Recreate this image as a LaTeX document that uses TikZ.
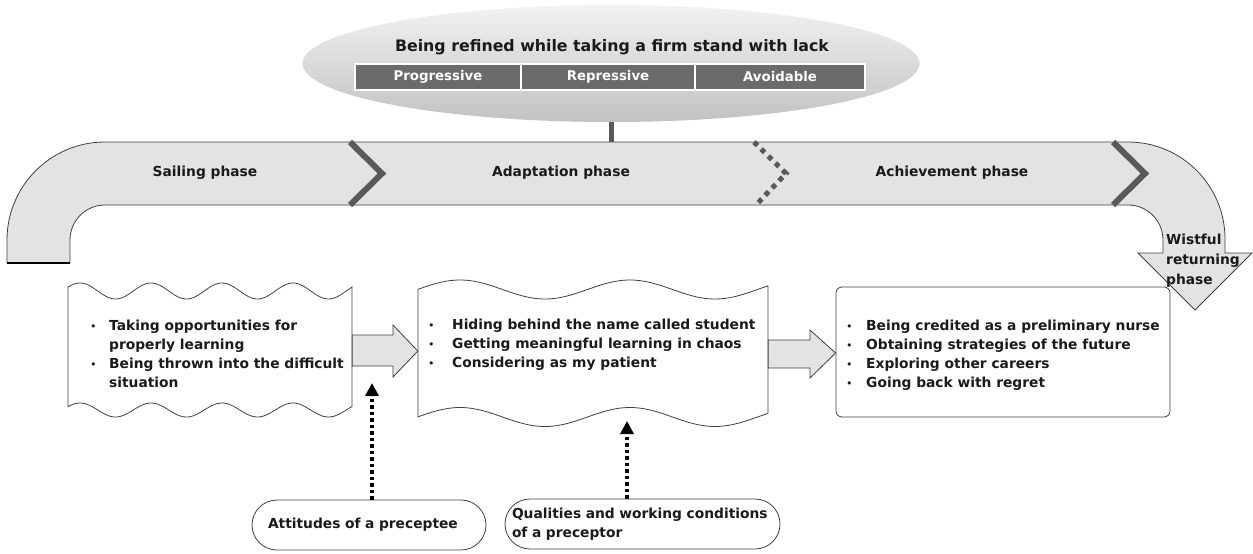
\documentclass[tikz,border=0pt]{standalone}
\usepackage{fontspec}
\setmainfont{DejaVu Sans}
\usetikzlibrary{shapes.geometric,arrows.meta,calc}
\definecolor{bandfill}{HTML}{E3E3E3}
\definecolor{edgecol}{HTML}{404040}
\definecolor{chevcol}{HTML}{595959}
\definecolor{darkbox}{HTML}{6B6B6B}
\definecolor{elltop}{HTML}{F2F2F2}
\definecolor{ellbot}{HTML}{C2C2C2}
\definecolor{ink}{HTML}{1A1A1A}
\newcommand{\bodyfont}{\bfseries\fontsize{13.8}{19}\selectfont}
\newcommand{\bul}{{\mdseries\fontsize{11}{11}\selectfont •}}
\begin{document}
\begin{tikzpicture}[x=1pt,y=-1pt,
  txt/.style={font=\bodyfont, inner sep=0pt, text=ink},
  darkcell/.style={fill=darkbox, draw=white, line width=1.5pt, minimum height=26pt,
     inner sep=0pt, text=white, font=\bfseries\fontsize{13.3}{16}\selectfont},
  chevron/.style={chevcol, line width=6pt},
  wavybox/.style={draw=edgecol, fill=white, line width=0.8pt},
  blockarrow/.style={draw=edgecol, fill=bandfill, line width=0.8pt},
  dotarrow/.style={black, line width=3.5pt, dash pattern=on 3.5pt off 3pt,
     -{Triangle[width=13pt,length=13pt]}},
  pill/.style={draw=edgecol, line width=0.8pt, rounded corners=25pt, minimum height=50pt,
     font=\bodyfont, text=ink, align=left}
]
\useasboundingbox (0,0) rectangle (1253,554);

% core category ellipse
\node[ellipse, minimum width=617pt, minimum height=117pt, inner sep=0pt,
      top color=elltop, bottom color=ellbot, draw=none] (core) at (611,63.5) {};
\node[txt, font=\bfseries\fontsize{15.8}{18}\selectfont] (title) at (612,47) {Being refined while taking a firm stand with lack};
\node[darkcell, minimum width=166pt] (prog) at (438,77) {Progressive};
\node[darkcell, minimum width=174pt] (repr) at (608,77) {Repressive};
\node[darkcell, minimum width=170pt] (avoid) at (780,77) {Avoidable};

% band
\draw[edgecol, fill=bandfill, line width=0.8pt]
  (7,263) -- (7,240) arc[start angle=180, end angle=270, radius=98]
  -- (1128,142) arc[start angle=270, end angle=360, radius=97]
  -- (1225,253) -- (1252,253) -- (1195,310) -- (1138,253) -- (1163,253) -- (1163,240)
  arc[start angle=0, end angle=-90, radius=35]
  -- (105,205) arc[start angle=270, end angle=180, radius=35]
  -- (70,263) -- cycle;
\draw[black, line width=2pt] (7,263) -- (70,263);

\coordinate (stemend) at (611,142);
\draw[chevcol, line width=5pt] (core.south) -- (stemend);

\draw[chevron] (350,142) -- (382,173.5) -- (350,205);
\draw[chevron, line width=5pt, dash pattern=on 5pt off 5pt] (754,142) -- (786,173.5) -- (756,205);
\draw[chevron] (1113,142) -- (1145,173.5) -- (1113,205);

\node[txt] (sail) at (205,173) {Sailing phase};
\node[txt] (adapt) at (561,173) {Adaptation phase};
\node[txt] (achv) at (952,173) {Achievement phase};
\node[txt, anchor=base west, font=\bfseries\fontsize{13.8}{20}\selectfont] (wist) at (1166,244)
  {\begin{tabular}[t]{@{}l@{}}Wistful\\returning\\phase\end{tabular}};

% boxes
\draw[wavybox] plot[domain=68:352, samples=150] (\x, {291-8*cos(5.0704*(\x-80))})
  -- plot[domain=352:68, samples=150] (\x, {410-7*cos(5.0704*(\x-80))}) -- cycle;
\node[minimum width=284pt, minimum height=120pt, inner sep=0pt] (b1) at (210,350) {};
\draw[wavybox] plot[domain=418:768, samples=150] (\x, {289.5-9.5*cos(2.1176*(\x-460))})
  -- plot[domain=768:418, samples=150] (\x, {417-9.5*cos(2.1176*(\x-460))}) -- cycle;
\node[minimum width=350pt, minimum height=128pt, inner sep=0pt] (b2) at (593,353) {};
\node[draw=edgecol, line width=0.8pt, rounded corners=6pt, minimum width=334pt,
      minimum height=130pt, inner sep=0pt] (b3) at (1003,352) {};

\node[txt, anchor=base west] (l1) at (90,330)
  {\begin{tabular}[t]{@{}p{19pt}@{}l@{}}\bul&Taking opportunities for\\&properly learning\\\bul&Being thrown into the difficult\\&situation\end{tabular}};
\node[txt, anchor=base west] (l2) at (428,329)
  {\begin{tabular}[t]{@{}p{24pt}@{}l@{}}\bul&Hiding behind the name called student\\\bul&Getting meaningful learning in chaos\\\bul&Considering as my patient\end{tabular}};
\node[txt, anchor=base west] (l3) at (846,330)
  {\begin{tabular}[t]{@{}p{20pt}@{}l@{}}\bul&Being credited as a preliminary nurse\\\bul&Obtaining strategies of the future\\\bul&Exploring other careers\\\bul&Going back with regret\end{tabular}};

% block arrows
\draw[blockarrow] (b1.east |- 0,335) -- (393,335) -- (393,325) -- (b2.west |- 0,351)
  -- (393,377) -- (393,366) -- (b1.east |- 0,366) -- cycle;
\draw[blockarrow] (b2.east |- 0,340) -- (810,340) -- (810,330) -- (b3.west |- 0,353)
  -- (810,378) -- (810,368) -- (b2.east |- 0,368) -- cycle;

% influencing conditions
\node[pill, minimum width=234pt, text width=202pt, inner xsep=16pt] (att) at (369,525) {Attitudes of a preceptee};
\node[pill, minimum width=275pt, text width=261pt, inner xsep=7pt] (qual) at (642.5,524)
  {Qualities and working conditions\\of a preceptor};
\coordinate (tip1) at (372,383);
\coordinate (tip2) at (627,421);
\draw[dotarrow] (tip1 |- att.north) -- (tip1);
\draw[dotarrow] (tip2 |- qual.north) -- (tip2);
\end{tikzpicture}
\end{document}
